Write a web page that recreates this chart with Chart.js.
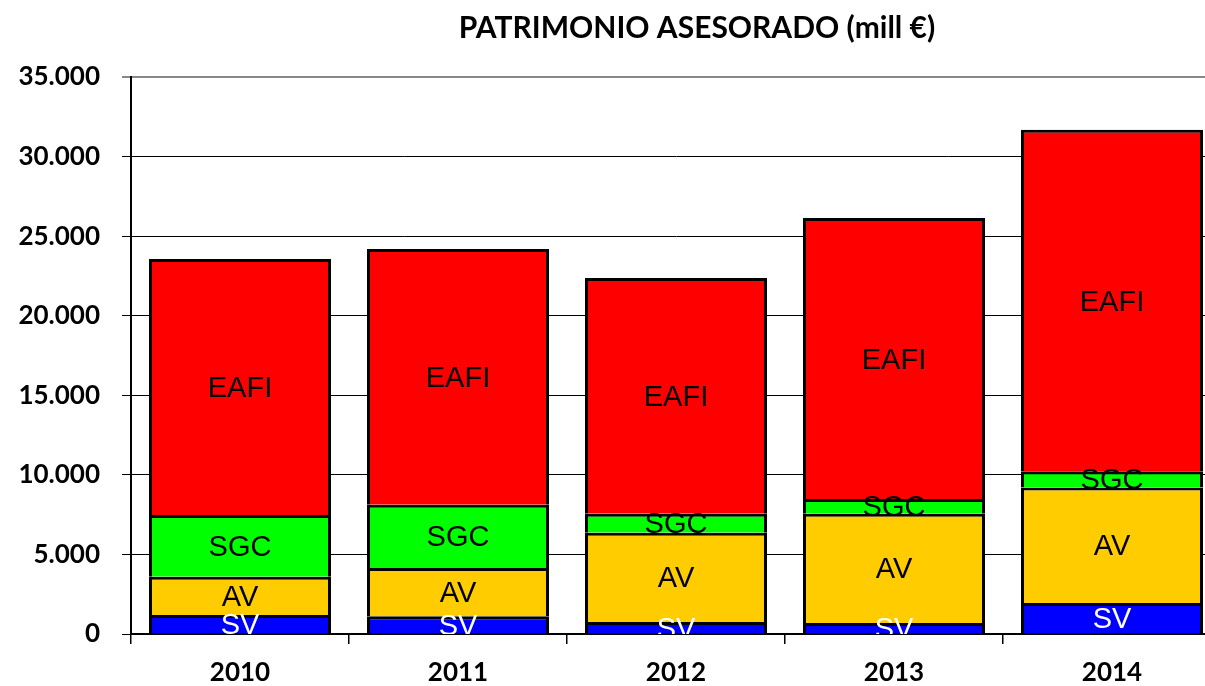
<!DOCTYPE html>
<html>
<head>
<meta charset="utf-8">
<script src="https://cdn.jsdelivr.net/npm/chart.js@4"></script>
<style>
    html, body { margin: 0; padding: 0; background: #fff; overflow: hidden; }
    #wrap { width: 1395px; height: 686px; }
</style>
</head>
<body>
<div id="wrap"><canvas id="chart"></canvas></div>
<script>
// ── Data (mill €) ─────────────────────────────────────
const years = ['2010', '2011', '2012', '2013', '2014'];
const sv   = [1200, 1110, 755, 690, 1950];
const av   = [2400, 3040, 5610, 6870, 7260];
const sgc  = [3880, 3975, 1195, 920, 1010];
const eafi = [16080, 16065, 14810, 17660, 21470];

const titleText = 'PATRIMONIO ASESORADO (mill €)';
const yMax = 35000;
const yStep = 5000;

function fmtMiles(v) {
    return String(v).replace(/\B(?=(\d{3})+(?!\d))/g, '.');
}

// ── Title, centred over the original (wider) chart ────
const chartTitle = {
    id: 'chartTitle',
    afterDraw(chart) {
        const { ctx } = chart;
        ctx.save();
        ctx.font = 'bold 30px Lato, sans-serif';
        ctx.fillStyle = '#000';
        ctx.textAlign = 'center';
        ctx.textBaseline = 'middle';
        ctx.fillText(titleText, 697, 28);
        ctx.restore();
    }
};

// ── Labels inside each segment ────────────────────────
const segmentLabels = {
    id: 'segmentLabels',
    afterDatasetsDraw(chart) {
        const { ctx, chartArea } = chart;
        ctx.save();
        ctx.beginPath();
        ctx.rect(chartArea.left, chartArea.top, chartArea.right - chartArea.left, chartArea.bottom - chartArea.top);
        ctx.clip();
        ctx.font = '29px "Liberation Sans", Arial, sans-serif';
        ctx.textAlign = 'center';
        ctx.textBaseline = 'middle';
        chart.data.datasets.forEach((ds, i) => {
            const meta = chart.getDatasetMeta(i);
            ctx.fillStyle = ds.labelColor;
            meta.data.forEach(bar => {
                ctx.fillText(ds.label, bar.x, (bar.y + bar.base) / 2 + 2);
            });
        });
        ctx.restore();
    }
};

const seg = (label, data, color, labelColor) => ({
    label,
    data,
    backgroundColor: color,
    borderColor: '#000',
    borderWidth: 3,
    labelColor,
    barPercentage: 0.835,
    categoryPercentage: 1,
});

new Chart(document.getElementById('chart'), {
    type: 'bar',
    data: {
        labels: years,
        datasets: [
            seg('SV', sv, '#0000ff', '#ffffff'),
            seg('AV', av, '#ffcc00', '#000000'),
            seg('SGC', sgc, '#00ff00', '#000000'),
            seg('EAFI', eafi, '#ff0000', '#000000'),
        ],
    },
    options: {
        responsive: true,
        maintainAspectRatio: false,
        animation: false,
        layout: { padding: { left: 0, right: 174, top: 77, bottom: 0 } },
        plugins: {
            legend: { display: false },
            tooltip: { enabled: false },
            title: { display: false },
        },
        scales: {
            x: {
                stacked: true,
                border: { display: true, color: '#000', width: 2 },
                grid: { drawOnChartArea: false, drawTicks: true, tickLength: 10, color: '#000', lineWidth: 1.5 },
                ticks: { color: '#000', padding: 13, font: { family: 'Lato', size: 26, weight: 'bold' } },
                afterFit: s => { s.height = 52; },
            },
            y: {
                stacked: true,
                min: 0,
                max: yMax,
                border: { display: true, color: '#000', width: 2 },
                grid: {
                    color: c => c.tick && c.tick.value === yMax ? '#888' : '#000',
                    lineWidth: c => c.tick && c.tick.value === yMax ? 2 : 1,
                    tickLength: 9,
                },
                ticks: {
                    stepSize: yStep,
                    color: '#000',
                    padding: 22,
                    font: { family: 'Lato', size: 26, weight: 'bold' },
                    callback: v => fmtMiles(v),
                },
                afterFit: s => { s.width = 131; },
            },
        },
    },
    plugins: [segmentLabels, chartTitle],
});
</script>
</body>
</html>
